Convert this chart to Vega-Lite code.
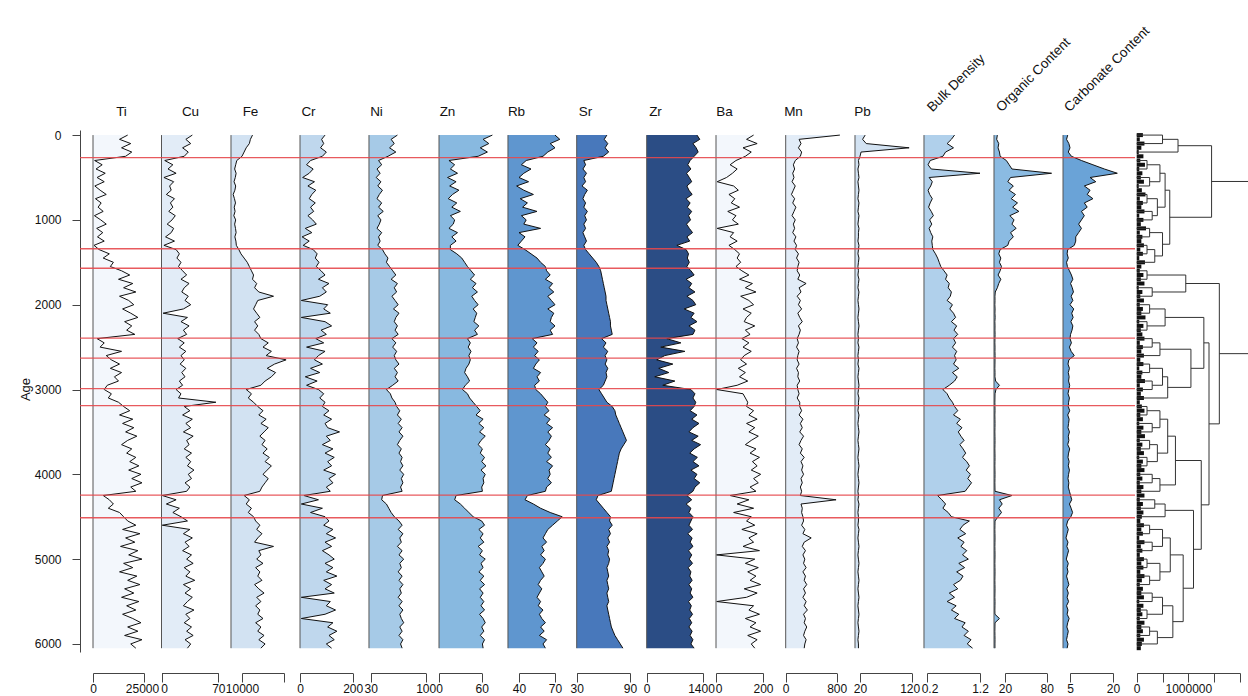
{
"$schema": "https://vega.github.io/schema/vega-lite/v6.json",
"width": 1055, "height": 522,
"autosize": {"type": "none"},
"padding": {"left": 80, "top": 130, "right": 113, "bottom": 44},
"background": "white",
"config": {
 "view": {"stroke": null},
 "axis": {"grid": false, "domainColor": "#444", "tickColor": "#444", "labelColor": "#111", "titleColor": "#111", "labelFont": "Liberation Sans", "titleFont": "Liberation Sans", "labelFontSize": 12, "titleFontSize": 13.5, "titleFontWeight": "normal", "tickSize": 9, "labelPadding": 1, "labelFlush": false, "domainWidth": 1, "tickWidth": 1}
},
"datasets": {
"core": [
{"age":0,"Ti":17000,"Cu":38,"Fe":15000,"Cr":95,"Ni":64,"Zn":75,"Rb":70,"Sr":64,"Zr":1250,"Ba":160,"Mn":850,"Pb":30,"BD":0.72,"OC":9,"CC":4.2,"tw":120000},
{"age":50,"Ti":13000,"Cu":30,"Fe":14000,"Cr":82,"Ni":56,"Zn":62,"Rb":74,"Sr":61,"Zr":1320,"Ba":130,"Mn":210,"Pb":25,"BD":0.66,"OC":8,"CC":3.8,"tw":60000},
{"age":100,"Ti":18500,"Cu":36,"Fe":13500,"Cr":90,"Ni":60,"Zn":70,"Rb":66,"Sr":65,"Zr":1150,"Ba":175,"Mn":240,"Pb":32,"BD":0.58,"OC":11,"CC":4.6,"tw":150000},
{"age":150,"Ti":14000,"Cu":26,"Fe":12000,"Cr":78,"Ni":54,"Zn":58,"Rb":70,"Sr":62,"Zr":1230,"Ba":115,"Mn":200,"Pb":115,"BD":0.70,"OC":10,"CC":5.0,"tw":90000},
{"age":200,"Ti":19000,"Cu":33,"Fe":11000,"Cr":100,"Ni":62,"Zn":68,"Rb":64,"Sr":66,"Zr":1280,"Ba":150,"Mn":250,"Pb":22,"BD":0.55,"OC":12,"CC":4.4,"tw":40000},
{"age":250,"Ti":16000,"Cu":28,"Fe":10000,"Cr":85,"Ni":52,"Zn":55,"Rb":60,"Sr":60,"Zr":1180,"Ba":125,"Mn":230,"Pb":20,"BD":0.50,"OC":13,"CC":5.5,"tw":130000},
{"age":300,"Ti":800,"Cu":4,"Fe":7500,"Cr":40,"Ni":40,"Zn":14,"Rb":46,"Sr":38,"Zr":1080,"Ba":85,"Mn":150,"Pb":17,"BD":0.26,"OC":22,"CC":9,"tw":70000},
{"age":350,"Ti":4500,"Cu":14,"Fe":7000,"Cr":25,"Ni":44,"Zn":22,"Rb":42,"Sr":40,"Zr":1020,"Ba":60,"Mn":120,"Pb":18,"BD":0.22,"OC":26,"CC":13,"tw":160000},
{"age":400,"Ti":1500,"Cu":8,"Fe":6500,"Cr":50,"Ni":38,"Zn":16,"Rb":50,"Sr":37,"Zr":1100,"Ba":90,"Mn":140,"Pb":16,"BD":0.28,"OC":30,"CC":17,"tw":50000},
{"age":450,"Ti":6000,"Cu":18,"Fe":7200,"Cr":35,"Ni":42,"Zn":26,"Rb":44,"Sr":41,"Zr":990,"Ba":70,"Mn":110,"Pb":17,"BD":1.2,"OC":87,"CC":21.5,"tw":110000},
{"age":500,"Ti":2000,"Cu":3,"Fe":6800,"Cr":10,"Ni":37,"Zn":12,"Rb":40,"Sr":38,"Zr":1060,"Ba":45,"Mn":130,"Pb":18,"BD":0.24,"OC":28,"CC":12,"tw":80000},
{"age":550,"Ti":5500,"Cu":15,"Fe":6200,"Cr":55,"Ni":43,"Zn":24,"Rb":48,"Sr":40,"Zr":1120,"Ba":5,"Mn":100,"Pb":16,"BD":0.30,"OC":24,"CC":14,"tw":140000},
{"age":600,"Ti":900,"Cu":10,"Fe":7000,"Cr":30,"Ni":39,"Zn":15,"Rb":38,"Sr":36,"Zr":1000,"Ba":75,"Mn":150,"Pb":17,"BD":0.27,"OC":32,"CC":10,"tw":40000},
{"age":650,"Ti":3500,"Cu":12,"Fe":6600,"Cr":60,"Ni":45,"Zn":28,"Rb":44,"Sr":42,"Zr":1050,"Ba":95,"Mn":120,"Pb":18,"BD":0.22,"OC":26,"CC":12,"tw":100000},
{"age":700,"Ti":6500,"Cu":6,"Fe":5800,"Cr":45,"Ni":41,"Zn":19,"Rb":52,"Sr":39,"Zr":1130,"Ba":55,"Mn":90,"Pb":17,"BD":0.25,"OC":35,"CC":11,"tw":170000},
{"age":750,"Ti":1200,"Cu":16,"Fe":6400,"Cr":35,"Ni":38,"Zn":13,"Rb":41,"Sr":37,"Zr":980,"Ba":80,"Mn":140,"Pb":16,"BD":0.30,"OC":29,"CC":13,"tw":60000},
{"age":800,"Ti":4000,"Cu":11,"Fe":6900,"Cr":58,"Ni":44,"Zn":25,"Rb":47,"Sr":40,"Zr":1080,"Ba":65,"Mn":110,"Pb":18,"BD":0.26,"OC":38,"CC":10,"tw":120000},
{"age":850,"Ti":2500,"Cu":14,"Fe":6300,"Cr":40,"Ni":40,"Zn":18,"Rb":43,"Sr":38,"Zr":1010,"Ba":100,"Mn":160,"Pb":17,"BD":0.23,"OC":31,"CC":11,"tw":90000},
{"age":900,"Ti":5000,"Cu":9,"Fe":6700,"Cr":52,"Ni":46,"Zn":30,"Rb":55,"Sr":42,"Zr":1120,"Ba":50,"Mn":130,"Pb":16,"BD":0.28,"OC":40,"CC":9,"tw":150000},
{"age":950,"Ti":700,"Cu":17,"Fe":6100,"Cr":30,"Ni":39,"Zn":16,"Rb":42,"Sr":39,"Zr":1040,"Ba":85,"Mn":100,"Pb":18,"BD":0.32,"OC":27,"CC":10,"tw":50000},
{"age":1000,"Ti":3800,"Cu":13,"Fe":7000,"Cr":48,"Ni":43,"Zn":22,"Rb":46,"Sr":41,"Zr":1090,"Ba":70,"Mn":150,"Pb":17,"BD":0.25,"OC":33,"CC":9,"tw":130000},
{"age":1050,"Ti":6500,"Cu":7,"Fe":6500,"Cr":62,"Ni":41,"Zn":20,"Rb":44,"Sr":38,"Zr":990,"Ba":95,"Mn":120,"Pb":16,"BD":0.29,"OC":30,"CC":8,"tw":80000},
{"age":1100,"Ti":1800,"Cu":15,"Fe":6900,"Cr":20,"Ni":38,"Zn":14,"Rb":58,"Sr":40,"Zr":1060,"Ba":5,"Mn":140,"Pb":18,"BD":0.24,"OC":36,"CC":9,"tw":180000},
{"age":1150,"Ti":4800,"Cu":12,"Fe":7200,"Cr":45,"Ni":44,"Zn":26,"Rb":40,"Sr":37,"Zr":1140,"Ba":75,"Mn":110,"Pb":17,"BD":0.27,"OC":28,"CC":8,"tw":60000},
{"age":1200,"Ti":2200,"Cu":5,"Fe":6600,"Cr":8,"Ni":40,"Zn":18,"Rb":45,"Sr":39,"Zr":1000,"Ba":60,"Mn":160,"Pb":17,"BD":0.31,"OC":32,"CC":7,"tw":110000},
{"age":1250,"Ti":5500,"Cu":16,"Fe":7100,"Cr":35,"Ni":42,"Zn":24,"Rb":42,"Sr":41,"Zr":1070,"Ba":90,"Mn":130,"Pb":16,"BD":0.29,"OC":26,"CC":7,"tw":90000},
{"age":1300,"Ti":500,"Cu":3,"Fe":7300,"Cr":12,"Ni":39,"Zn":16,"Rb":39,"Sr":38,"Zr":750,"Ba":55,"Mn":170,"Pb":18,"BD":0.30,"OC":24,"CC":6.5,"tw":140000},
{"age":1350,"Ti":3000,"Cu":18,"Fe":8500,"Cr":50,"Ni":45,"Zn":16,"Rb":45,"Sr":40,"Zr":980,"Ba":80,"Mn":150,"Pb":17,"BD":0.31,"OC":13,"CC":4.2,"tw":70000},
{"age":1400,"Ti":8000,"Cu":22,"Fe":9500,"Cr":65,"Ni":48,"Zn":25,"Rb":50,"Sr":44,"Zr":1040,"Ba":100,"Mn":200,"Pb":16,"BD":0.36,"OC":11,"CC":4.0,"tw":120000},
{"age":1450,"Ti":5000,"Cu":19,"Fe":11000,"Cr":58,"Ni":52,"Zn":32,"Rb":55,"Sr":48,"Zr":1010,"Ba":90,"Mn":170,"Pb":18,"BD":0.40,"OC":14,"CC":4.4,"tw":50000},
{"age":1500,"Ti":10000,"Cu":24,"Fe":12500,"Cr":72,"Ni":50,"Zn":36,"Rb":58,"Sr":52,"Zr":1060,"Ba":105,"Mn":210,"Pb":17,"BD":0.43,"OC":12,"CC":3.8,"tw":160000},
{"age":1550,"Ti":8500,"Cu":21,"Fe":13500,"Cr":62,"Ni":54,"Zn":40,"Rb":62,"Sr":55,"Zr":1000,"Ba":85,"Mn":190,"Pb":16,"BD":0.46,"OC":15,"CC":4.1,"tw":90000},
{"age":1600,"Ti":14000,"Cu":26,"Fe":14500,"Cr":80,"Ni":58,"Zn":45,"Rb":63,"Sr":57,"Zr":1100,"Ba":110,"Mn":180,"Pb":17,"BD":0.52,"OC":13,"CC":4.8,"tw":60000},
{"age":1650,"Ti":18000,"Cu":31,"Fe":15500,"Cr":95,"Ni":62,"Zn":50,"Rb":66,"Sr":58,"Zr":1180,"Ba":140,"Mn":220,"Pb":16,"BD":0.58,"OC":10,"CC":5.5,"tw":130000},
{"age":1700,"Ti":12500,"Cu":24,"Fe":15000,"Cr":70,"Ni":56,"Zn":44,"Rb":62,"Sr":59,"Zr":980,"Ba":100,"Mn":190,"Pb":18,"BD":0.55,"OC":14,"CC":6.0,"tw":80000},
{"age":1750,"Ti":19500,"Cu":34,"Fe":17000,"Cr":110,"Ni":64,"Zn":52,"Rb":68,"Sr":60,"Zr":1120,"Ba":155,"Mn":320,"Pb":17,"BD":0.62,"OC":11,"CC":5.2,"tw":150000},
{"age":1800,"Ti":15000,"Cu":28,"Fe":16000,"Cr":85,"Ni":60,"Zn":47,"Rb":65,"Sr":61,"Zr":1050,"Ba":125,"Mn":210,"Pb":16,"BD":0.60,"OC":9,"CC":5.8,"tw":40000},
{"age":1850,"Ti":21000,"Cu":25,"Fe":18000,"Cr":100,"Ni":63,"Zn":54,"Rb":69,"Sr":62,"Zr":1200,"Ba":170,"Mn":240,"Pb":18,"BD":0.66,"OC":6,"CC":6.2,"tw":110000},
{"age":1900,"Ti":13000,"Cu":33,"Fe":25000,"Cr":75,"Ni":57,"Zn":46,"Rb":64,"Sr":63,"Zr":1000,"Ba":105,"Mn":180,"Pb":17,"BD":0.64,"OC":5.5,"CC":5.4,"tw":70000},
{"age":1950,"Ti":17500,"Cu":29,"Fe":17500,"Cr":5,"Ni":61,"Zn":50,"Rb":67,"Sr":63,"Zr":1150,"Ba":140,"Mn":230,"Pb":16,"BD":0.58,"OC":5.6,"CC":6.0,"tw":140000},
{"age":2000,"Ti":20000,"Cu":36,"Fe":16500,"Cr":105,"Ni":65,"Zn":55,"Rb":70,"Sr":64,"Zr":1220,"Ba":160,"Mn":200,"Pb":17,"BD":0.68,"OC":5.4,"CC":5.0,"tw":60000},
{"age":2050,"Ti":14500,"Cu":27,"Fe":15500,"Cr":90,"Ni":59,"Zn":48,"Rb":64,"Sr":65,"Zr":930,"Ba":115,"Mn":250,"Pb":18,"BD":0.63,"OC":5.7,"CC":6.3,"tw":120000},
{"age":2100,"Ti":18500,"Cu":2,"Fe":17000,"Cr":115,"Ni":66,"Zn":53,"Rb":69,"Sr":66,"Zr":1180,"Ba":150,"Mn":190,"Pb":17,"BD":0.70,"OC":5.5,"CC":5.6,"tw":90000},
{"age":2150,"Ti":22000,"Cu":32,"Fe":18500,"Cr":5,"Ni":62,"Zn":51,"Rb":67,"Sr":67,"Zr":1100,"Ba":130,"Mn":220,"Pb":16,"BD":0.74,"OC":5.8,"CC":6.1,"tw":170000},
{"age":2200,"Ti":15500,"Cu":24,"Fe":16000,"Cr":95,"Ni":60,"Zn":49,"Rb":66,"Sr":68,"Zr":1250,"Ba":120,"Mn":260,"Pb":17,"BD":0.66,"OC":5.4,"CC":5.3,"tw":50000},
{"age":2250,"Ti":19000,"Cu":34,"Fe":17500,"Cr":120,"Ni":64,"Zn":56,"Rb":70,"Sr":68,"Zr":1050,"Ba":165,"Mn":200,"Pb":18,"BD":0.76,"OC":5.6,"CC":6.0,"tw":130000},
{"age":2300,"Ti":16500,"Cu":27,"Fe":16000,"Cr":80,"Ni":61,"Zn":50,"Rb":66,"Sr":69,"Zr":1200,"Ba":125,"Mn":230,"Pb":17,"BD":0.71,"OC":5.5,"CC":5.7,"tw":80000},
{"age":2350,"Ti":20500,"Cu":31,"Fe":18000,"Cr":100,"Ni":65,"Zn":54,"Rb":68,"Sr":70,"Zr":1150,"Ba":145,"Mn":210,"Pb":16,"BD":0.78,"OC":5.7,"CC":5.2,"tw":110000},
{"age":2400,"Ti":2000,"Cu":20,"Fe":19000,"Cr":60,"Ni":57,"Zn":40,"Rb":51,"Sr":58,"Zr":500,"Ba":110,"Mn":180,"Pb":17,"BD":0.70,"OC":5.5,"CC":5.0,"tw":150000},
{"age":2450,"Ti":5500,"Cu":28,"Fe":22500,"Cr":90,"Ni":62,"Zn":44,"Rb":55,"Sr":63,"Zr":850,"Ba":140,"Mn":200,"Pb":16,"BD":0.74,"OC":5.4,"CC":5.5,"tw":60000},
{"age":2500,"Ti":3500,"Cu":22,"Fe":20000,"Cr":25,"Ni":58,"Zn":41,"Rb":52,"Sr":60,"Zr":350,"Ba":115,"Mn":170,"Pb":18,"BD":0.68,"OC":5.6,"CC":4.8,"tw":120000},
{"age":2550,"Ti":14000,"Cu":30,"Fe":24000,"Cr":95,"Ni":63,"Zn":45,"Rb":56,"Sr":65,"Zr":950,"Ba":150,"Mn":210,"Pb":17,"BD":0.76,"OC":5.5,"CC":5.4,"tw":90000},
{"age":2600,"Ti":6500,"Cu":24,"Fe":21500,"Cr":70,"Ni":60,"Zn":42,"Rb":53,"Sr":62,"Zr":450,"Ba":120,"Mn":190,"Pb":16,"BD":0.72,"OC":5.7,"CC":6.5,"tw":140000},
{"age":2650,"Ti":9000,"Cu":28,"Fe":31000,"Cr":55,"Ni":62,"Zn":44,"Rb":57,"Sr":64,"Zr":250,"Ba":105,"Mn":180,"Pb":17,"BD":0.75,"OC":5.6,"CC":4.6,"tw":70000},
{"age":2700,"Ti":13000,"Cu":23,"Fe":25500,"Cr":85,"Ni":66,"Zn":42,"Rb":54,"Sr":62,"Zr":650,"Ba":130,"Mn":210,"Pb":16,"BD":0.70,"OC":5.5,"CC":4.3,"tw":130000},
{"age":2750,"Ti":8500,"Cu":30,"Fe":22000,"Cr":40,"Ni":60,"Zn":38,"Rb":52,"Sr":65,"Zr":300,"Ba":95,"Mn":170,"Pb":18,"BD":0.80,"OC":5.4,"CC":4.8,"tw":50000},
{"age":2800,"Ti":14000,"Cu":25,"Fe":26000,"Cr":75,"Ni":64,"Zn":36,"Rb":58,"Sr":63,"Zr":550,"Ba":125,"Mn":200,"Pb":17,"BD":0.68,"OC":5.6,"CC":4.4,"tw":110000},
{"age":2850,"Ti":10500,"Cu":29,"Fe":24000,"Cr":20,"Ni":61,"Zn":40,"Rb":55,"Sr":64,"Zr":200,"Ba":100,"Mn":190,"Pb":16,"BD":0.77,"OC":5.5,"CC":4.7,"tw":90000},
{"age":2900,"Ti":12500,"Cu":22,"Fe":21000,"Cr":65,"Ni":65,"Zn":43,"Rb":57,"Sr":62,"Zr":700,"Ba":135,"Mn":220,"Pb":17,"BD":0.72,"OC":6.5,"CC":4.5,"tw":160000},
{"age":2950,"Ti":7000,"Cu":26,"Fe":19000,"Cr":25,"Ni":58,"Zn":37,"Rb":53,"Sr":60,"Zr":400,"Ba":90,"Mn":180,"Pb":18,"BD":0.62,"OC":12,"CC":4.9,"tw":60000},
{"age":3000,"Ti":5500,"Cu":18,"Fe":12000,"Cr":70,"Ni":50,"Zn":33,"Rb":54,"Sr":55,"Zr":1100,"Ba":3,"Mn":190,"Pb":17,"BD":0.50,"OC":7,"CC":4.6,"tw":120000},
{"age":3050,"Ti":9000,"Cu":24,"Fe":14500,"Cr":90,"Ni":55,"Zn":40,"Rb":58,"Sr":58,"Zr":1200,"Ba":115,"Mn":210,"Pb":16,"BD":0.58,"OC":5.6,"CC":4.3,"tw":80000},
{"age":3100,"Ti":7500,"Cu":21,"Fe":13000,"Cr":75,"Ni":57,"Zn":43,"Rb":61,"Sr":61,"Zr":1150,"Ba":125,"Mn":180,"Pb":18,"BD":0.62,"OC":5.5,"CC":4.8,"tw":140000},
{"age":3150,"Ti":12500,"Cu":67,"Fe":15500,"Cr":95,"Ni":61,"Zn":48,"Rb":64,"Sr":64,"Zr":1220,"Ba":135,"Mn":220,"Pb":17,"BD":0.68,"OC":5.4,"CC":4.5,"tw":60000},
{"age":3200,"Ti":15000,"Cu":28,"Fe":17500,"Cr":85,"Ni":63,"Zn":53,"Rb":62,"Sr":70,"Zr":1180,"Ba":130,"Mn":220,"Pb":17,"BD":0.72,"OC":5.5,"CC":4.4,"tw":100000},
{"age":3250,"Ti":18000,"Cu":35,"Fe":20000,"Cr":110,"Ni":67,"Zn":58,"Rb":65,"Sr":73,"Zr":1080,"Ba":160,"Mn":250,"Pb":16,"BD":0.78,"OC":5.6,"CC":4.9,"tw":150000},
{"age":3300,"Ti":13000,"Cu":26,"Fe":18000,"Cr":90,"Ni":64,"Zn":52,"Rb":61,"Sr":74,"Zr":1250,"Ba":140,"Mn":210,"Pb":18,"BD":0.70,"OC":5.4,"CC":4.2,"tw":70000},
{"age":3350,"Ti":19500,"Cu":38,"Fe":21500,"Cr":120,"Ni":69,"Zn":62,"Rb":66,"Sr":76,"Zr":1120,"Ba":175,"Mn":270,"Pb":17,"BD":0.83,"OC":5.5,"CC":4.7,"tw":120000},
{"age":3400,"Ti":14500,"Cu":30,"Fe":19000,"Cr":95,"Ni":65,"Zn":56,"Rb":63,"Sr":78,"Zr":1300,"Ba":130,"Mn":230,"Pb":16,"BD":0.76,"OC":5.6,"CC":4.5,"tw":50000},
{"age":3450,"Ti":20000,"Cu":36,"Fe":22500,"Cr":105,"Ni":70,"Zn":63,"Rb":68,"Sr":80,"Zr":1150,"Ba":165,"Mn":260,"Pb":17,"BD":0.86,"OC":5.5,"CC":4.3,"tw":130000},
{"age":3500,"Ti":16000,"Cu":27,"Fe":20500,"Cr":150,"Ni":66,"Zn":57,"Rb":64,"Sr":82,"Zr":1050,"Ba":140,"Mn":220,"Pb":18,"BD":0.79,"OC":5.4,"CC":4.8,"tw":90000},
{"age":3550,"Ti":21500,"Cu":39,"Fe":18500,"Cr":100,"Ni":71,"Zn":65,"Rb":67,"Sr":84,"Zr":1280,"Ba":180,"Mn":280,"Pb":17,"BD":0.84,"OC":5.5,"CC":4.4,"tw":160000},
{"age":3600,"Ti":17000,"Cu":31,"Fe":21000,"Cr":115,"Ni":67,"Zn":59,"Rb":65,"Sr":86,"Zr":1120,"Ba":150,"Mn":240,"Pb":16,"BD":0.90,"OC":5.6,"CC":4.6,"tw":60000},
{"age":3650,"Ti":14000,"Cu":34,"Fe":19500,"Cr":85,"Ni":64,"Zn":55,"Rb":62,"Sr":83,"Zr":1340,"Ba":125,"Mn":210,"Pb":17,"BD":0.82,"OC":5.5,"CC":4.2,"tw":110000},
{"age":3700,"Ti":19000,"Cu":28,"Fe":22000,"Cr":125,"Ni":69,"Zn":61,"Rb":66,"Sr":80,"Zr":1180,"Ba":170,"Mn":260,"Pb":18,"BD":0.88,"OC":5.4,"CC":4.9,"tw":80000},
{"age":3750,"Ti":16500,"Cu":37,"Fe":20000,"Cr":95,"Ni":66,"Zn":58,"Rb":64,"Sr":78,"Zr":1070,"Ba":145,"Mn":230,"Pb":17,"BD":0.93,"OC":5.5,"CC":4.5,"tw":140000},
{"age":3800,"Ti":21000,"Cu":30,"Fe":23000,"Cr":130,"Ni":70,"Zn":64,"Rb":67,"Sr":77,"Zr":1260,"Ba":185,"Mn":290,"Pb":16,"BD":0.87,"OC":5.6,"CC":4.3,"tw":50000},
{"age":3850,"Ti":18000,"Cu":36,"Fe":21000,"Cr":105,"Ni":68,"Zn":60,"Rb":63,"Sr":76,"Zr":1150,"Ba":155,"Mn":240,"Pb":17,"BD":0.95,"OC":5.5,"CC":4.7,"tw":120000},
{"age":3900,"Ti":22500,"Cu":32,"Fe":24000,"Cr":120,"Ni":71,"Zn":66,"Rb":68,"Sr":75,"Zr":1300,"Ba":175,"Mn":270,"Pb":18,"BD":1.00,"OC":5.4,"CC":4.4,"tw":90000},
{"age":3950,"Ti":17500,"Cu":40,"Fe":22000,"Cr":90,"Ni":67,"Zn":59,"Rb":65,"Sr":74,"Zr":1100,"Ba":150,"Mn":250,"Pb":17,"BD":0.94,"OC":5.5,"CC":4.8,"tw":150000},
{"age":4000,"Ti":23500,"Cu":33,"Fe":20000,"Cr":135,"Ni":72,"Zn":65,"Rb":66,"Sr":73,"Zr":1250,"Ba":190,"Mn":280,"Pb":16,"BD":1.02,"OC":5.6,"CC":4.5,"tw":70000},
{"age":4050,"Ti":19000,"Cu":37,"Fe":22500,"Cr":110,"Ni":69,"Zn":62,"Rb":64,"Sr":72,"Zr":1180,"Ba":160,"Mn":240,"Pb":17,"BD":0.97,"OC":5.5,"CC":4.3,"tw":110000},
{"age":4100,"Ti":24000,"Cu":29,"Fe":21000,"Cr":125,"Ni":71,"Zn":63,"Rb":67,"Sr":71,"Zr":1320,"Ba":180,"Mn":260,"Pb":18,"BD":1.04,"OC":5.4,"CC":4.6,"tw":60000},
{"age":4150,"Ti":18500,"Cu":35,"Fe":19500,"Cr":100,"Ni":68,"Zn":60,"Rb":63,"Sr":70,"Zr":1200,"Ba":145,"Mn":230,"Pb":17,"BD":0.98,"OC":5.5,"CC":4.4,"tw":130000},
{"age":4200,"Ti":21000,"Cu":31,"Fe":18500,"Cr":115,"Ni":70,"Zn":61,"Rb":62,"Sr":69,"Zr":1150,"Ba":170,"Mn":250,"Pb":16,"BD":0.92,"OC":5.6,"CC":4.8,"tw":90000},
{"age":4250,"Ti":5000,"Cu":1,"Fe":11000,"Cr":15,"Ni":45,"Zn":24,"Rb":47,"Sr":54,"Zr":1000,"Ba":60,"Mn":230,"Pb":17,"BD":0.40,"OC":30,"CC":5.2,"tw":150000},
{"age":4300,"Ti":8000,"Cu":18,"Fe":13500,"Cr":70,"Ni":44,"Zn":22,"Rb":45,"Sr":52,"Zr":1120,"Ba":140,"Mn":790,"Pb":16,"BD":0.48,"OC":12,"CC":5.6,"tw":60000},
{"age":4350,"Ti":10000,"Cu":6,"Fe":12000,"Cr":5,"Ni":50,"Zn":30,"Rb":52,"Sr":56,"Zr":980,"Ba":90,"Mn":240,"Pb":18,"BD":0.55,"OC":16,"CC":4.8,"tw":120000},
{"age":4400,"Ti":7500,"Cu":22,"Fe":14500,"Cr":85,"Ni":53,"Zn":36,"Rb":58,"Sr":60,"Zr":1100,"Ba":160,"Mn":260,"Pb":17,"BD":0.50,"OC":11,"CC":5.4,"tw":80000},
{"age":4450,"Ti":13000,"Cu":14,"Fe":13000,"Cr":40,"Ni":56,"Zn":42,"Rb":66,"Sr":64,"Zr":1050,"Ba":75,"Mn":250,"Pb":16,"BD":0.60,"OC":15,"CC":5.9,"tw":130000},
{"age":4500,"Ti":15000,"Cu":24,"Fe":15500,"Cr":95,"Ni":60,"Zn":48,"Rb":76,"Sr":68,"Zr":1150,"Ba":150,"Mn":270,"Pb":17,"BD":0.66,"OC":10,"CC":5.3,"tw":100000},
{"age":4550,"Ti":17000,"Cu":32,"Fe":16500,"Cr":110,"Ni":66,"Zn":60,"Rb":72,"Sr":67,"Zr":1100,"Ba":130,"Mn":280,"Pb":17,"BD":1.00,"OC":5.6,"CC":4.2,"tw":70000},
{"age":4600,"Ti":21000,"Cu":1,"Fe":18500,"Cr":90,"Ni":70,"Zn":64,"Rb":68,"Sr":70,"Zr":1050,"Ba":165,"Mn":250,"Pb":16,"BD":0.88,"OC":5.5,"CC":3.8,"tw":140000},
{"age":4650,"Ti":14500,"Cu":35,"Fe":17000,"Cr":125,"Ni":65,"Zn":56,"Rb":64,"Sr":66,"Zr":1140,"Ba":110,"Mn":300,"Pb":18,"BD":0.82,"OC":5.4,"CC":4.4,"tw":90000},
{"age":4700,"Ti":23000,"Cu":27,"Fe":19500,"Cr":100,"Ni":71,"Zn":62,"Rb":62,"Sr":68,"Zr":1020,"Ba":175,"Mn":270,"Pb":17,"BD":0.93,"OC":5.5,"CC":4.0,"tw":120000},
{"age":4750,"Ti":16000,"Cu":38,"Fe":17500,"Cr":135,"Ni":67,"Zn":58,"Rb":60,"Sr":65,"Zr":1130,"Ba":140,"Mn":400,"Pb":16,"BD":0.78,"OC":5.6,"CC":3.6,"tw":50000},
{"age":4800,"Ti":20500,"Cu":29,"Fe":16000,"Cr":95,"Ni":69,"Zn":63,"Rb":63,"Sr":67,"Zr":1080,"Ba":160,"Mn":290,"Pb":17,"BD":0.90,"OC":5.5,"CC":4.3,"tw":150000},
{"age":4850,"Ti":13500,"Cu":34,"Fe":25000,"Cr":120,"Ni":64,"Zn":55,"Rb":59,"Sr":64,"Zr":1150,"Ba":115,"Mn":260,"Pb":18,"BD":0.84,"OC":5.4,"CC":3.9,"tw":80000},
{"age":4900,"Ti":22000,"Cu":26,"Fe":18000,"Cr":85,"Ni":70,"Zn":61,"Rb":61,"Sr":66,"Zr":1040,"Ba":185,"Mn":310,"Pb":17,"BD":0.95,"OC":5.5,"CC":4.5,"tw":110000},
{"age":4950,"Ti":17500,"Cu":37,"Fe":19000,"Cr":110,"Ni":66,"Zn":57,"Rb":58,"Sr":65,"Zr":1120,"Ba":2,"Mn":270,"Pb":16,"BD":0.87,"OC":5.6,"CC":4.1,"tw":60000},
{"age":5000,"Ti":24000,"Cu":31,"Fe":17000,"Cr":130,"Ni":72,"Zn":65,"Rb":62,"Sr":67,"Zr":1060,"Ba":165,"Mn":300,"Pb":17,"BD":0.98,"OC":5.5,"CC":3.7,"tw":140000},
{"age":5050,"Ti":15000,"Cu":39,"Fe":20000,"Cr":95,"Ni":67,"Zn":59,"Rb":60,"Sr":66,"Zr":1140,"Ba":125,"Mn":280,"Pb":18,"BD":0.80,"OC":5.4,"CC":4.4,"tw":90000},
{"age":5100,"Ti":19500,"Cu":28,"Fe":16500,"Cr":125,"Ni":69,"Zn":62,"Rb":57,"Sr":64,"Zr":1030,"Ba":180,"Mn":320,"Pb":17,"BD":0.91,"OC":5.5,"CC":4.0,"tw":130000},
{"age":5150,"Ti":13000,"Cu":35,"Fe":18500,"Cr":100,"Ni":65,"Zn":56,"Rb":59,"Sr":65,"Zr":1100,"Ba":135,"Mn":270,"Pb":16,"BD":0.76,"OC":5.6,"CC":4.3,"tw":70000},
{"age":5200,"Ti":21500,"Cu":30,"Fe":17500,"Cr":140,"Ni":70,"Zn":63,"Rb":61,"Sr":66,"Zr":1070,"Ba":170,"Mn":310,"Pb":17,"BD":0.88,"OC":5.5,"CC":3.8,"tw":150000},
{"age":5250,"Ti":17000,"Cu":41,"Fe":19500,"Cr":90,"Ni":66,"Zn":58,"Rb":58,"Sr":64,"Zr":1130,"Ba":145,"Mn":290,"Pb":18,"BD":0.83,"OC":5.4,"CC":4.2,"tw":100000},
{"age":5300,"Ti":23000,"Cu":27,"Fe":16000,"Cr":120,"Ni":71,"Zn":64,"Rb":56,"Sr":65,"Zr":1050,"Ba":190,"Mn":330,"Pb":17,"BD":0.70,"OC":5.5,"CC":4.6,"tw":60000},
{"age":5350,"Ti":15500,"Cu":36,"Fe":18000,"Cr":95,"Ni":67,"Zn":57,"Rb":59,"Sr":66,"Zr":1120,"Ba":120,"Mn":280,"Pb":16,"BD":0.78,"OC":5.6,"CC":3.9,"tw":120000},
{"age":5400,"Ti":20000,"Cu":29,"Fe":20500,"Cr":130,"Ni":69,"Zn":62,"Rb":57,"Sr":64,"Zr":1080,"Ba":175,"Mn":310,"Pb":17,"BD":0.62,"OC":5.5,"CC":4.4,"tw":90000},
{"age":5450,"Ti":14000,"Cu":38,"Fe":17000,"Cr":5,"Ni":65,"Zn":58,"Rb":55,"Sr":65,"Zr":1150,"Ba":130,"Mn":270,"Pb":18,"BD":0.72,"OC":5.4,"CC":4.0,"tw":140000},
{"age":5500,"Ti":22500,"Cu":32,"Fe":19000,"Cr":115,"Ni":70,"Zn":63,"Rb":58,"Sr":66,"Zr":1040,"Ba":3,"Mn":320,"Pb":17,"BD":0.58,"OC":5.6,"CC":4.5,"tw":50000},
{"age":5550,"Ti":16500,"Cu":27,"Fe":16500,"Cr":100,"Ni":66,"Zn":59,"Rb":56,"Sr":64,"Zr":1110,"Ba":160,"Mn":290,"Pb":16,"BD":0.75,"OC":5.5,"CC":3.8,"tw":130000},
{"age":5600,"Ti":21000,"Cu":40,"Fe":18500,"Cr":135,"Ni":71,"Zn":64,"Rb":60,"Sr":65,"Zr":1070,"Ba":140,"Mn":340,"Pb":17,"BD":0.66,"OC":5.4,"CC":4.3,"tw":80000},
{"age":5650,"Ti":14500,"Cu":30,"Fe":17500,"Cr":95,"Ni":67,"Zn":57,"Rb":57,"Sr":66,"Zr":1140,"Ba":185,"Mn":280,"Pb":18,"BD":0.80,"OC":5.5,"CC":4.0,"tw":110000},
{"age":5700,"Ti":19500,"Cu":35,"Fe":20000,"Cr":5,"Ni":69,"Zn":62,"Rb":59,"Sr":67,"Zr":1060,"Ba":125,"Mn":310,"Pb":17,"BD":0.72,"OC":12,"CC":4.7,"tw":60000},
{"age":5750,"Ti":23500,"Cu":28,"Fe":16500,"Cr":125,"Ni":72,"Zn":65,"Rb":62,"Sr":68,"Zr":1120,"Ba":170,"Mn":290,"Pb":16,"BD":0.92,"OC":5.6,"CC":4.2,"tw":150000},
{"age":5800,"Ti":17000,"Cu":37,"Fe":19000,"Cr":105,"Ni":67,"Zn":60,"Rb":58,"Sr":69,"Zr":1050,"Ba":145,"Mn":330,"Pb":17,"BD":0.86,"OC":5.5,"CC":3.9,"tw":90000},
{"age":5850,"Ti":22000,"Cu":31,"Fe":17500,"Cr":140,"Ni":70,"Zn":63,"Rb":61,"Sr":71,"Zr":1130,"Ba":190,"Mn":300,"Pb":18,"BD":0.98,"OC":5.4,"CC":4.4,"tw":120000},
{"age":5900,"Ti":15500,"Cu":39,"Fe":20500,"Cr":110,"Ni":66,"Zn":58,"Rb":57,"Sr":73,"Zr":1080,"Ba":135,"Mn":280,"Pb":17,"BD":0.90,"OC":5.5,"CC":4.1,"tw":70000},
{"age":5950,"Ti":24000,"Cu":29,"Fe":18000,"Cr":130,"Ni":71,"Zn":64,"Rb":63,"Sr":76,"Zr":1150,"Ba":175,"Mn":320,"Pb":16,"BD":1.03,"OC":5.6,"CC":3.8,"tw":140000},
{"age":6000,"Ti":18500,"Cu":36,"Fe":21000,"Cr":100,"Ni":68,"Zn":61,"Rb":60,"Sr":79,"Zr":1100,"Ba":150,"Mn":300,"Pb":17,"BD":0.96,"OC":5.5,"CC":4.3,"tw":100000},
{"age":6050,"Ti":21000,"Cu":32,"Fe":19000,"Cr":120,"Ni":70,"Zn":62,"Rb":62,"Sr":82,"Zr":1180,"Ba":165,"Mn":290,"Pb":17,"BD":1.06,"OC":5.5,"CC":4.0,"tw":80000}
],
"zones": [{"age":265},{"age":1340},{"age":1570},{"age":2395},{"age":2630},{"age":2990},{"age":3190},{"age":4245},{"age":4512}],
"dendro": [
{"age":0,"age2":100,"h":500000,"hl":0,"hr":0},
{"age":50,"age2":200,"h":800000,"hl":500000,"hr":0},
{"age":300,"age2":400,"h":200000,"hl":0,"hr":0},
{"age":500,"age2":600,"h":250000,"hl":0,"hr":0},
{"age":350,"age2":550,"h":450000,"hl":200000,"hr":250000},
{"age":700,"age2":800,"h":200000,"hl":0,"hr":0},
{"age":900,"age2":1000,"h":300000,"hl":0,"hr":0},
{"age":750,"age2":950,"h":400000,"hl":200000,"hr":300000},
{"age":450,"age2":850,"h":550000,"hl":450000,"hr":400000},
{"age":1100,"age2":1200,"h":250000,"hl":0,"hr":0},
{"age":1300,"age2":1400,"h":200000,"hl":0,"hr":0},
{"age":1350,"age2":1500,"h":350000,"hl":200000,"hr":0},
{"age":1150,"age2":1425,"h":500000,"hl":250000,"hr":350000},
{"age":650,"age2":1287,"h":640000,"hl":550000,"hr":500000},
{"age":125,"age2":969,"h":1450000,"hl":800000,"hr":640000},
{"age":1600,"age2":1700,"h":200000,"hl":0,"hr":0},
{"age":1800,"age2":1900,"h":300000,"hl":0,"hr":0},
{"age":1650,"age2":1850,"h":950000,"hl":200000,"hr":300000},
{"age":2000,"age2":2100,"h":250000,"hl":0,"hr":0},
{"age":2200,"age2":2300,"h":200000,"hl":0,"hr":0},
{"age":2050,"age2":2250,"h":550000,"hl":250000,"hr":200000},
{"age":2400,"age2":2500,"h":300000,"hl":0,"hr":0},
{"age":2450,"age2":2600,"h":450000,"hl":300000,"hr":0},
{"age":2700,"age2":2800,"h":250000,"hl":0,"hr":0},
{"age":2900,"age2":3000,"h":300000,"hl":0,"hr":0},
{"age":2750,"age2":2950,"h":500000,"hl":250000,"hr":300000},
{"age":2850,"age2":3100,"h":600000,"hl":500000,"hr":0},
{"age":2525,"age2":2975,"h":1050000,"hl":450000,"hr":600000},
{"age":2150,"age2":2750,"h":1300000,"hl":550000,"hr":1050000},
{"age":3200,"age2":3300,"h":200000,"hl":0,"hr":0},
{"age":3400,"age2":3500,"h":300000,"hl":0,"hr":0},
{"age":3250,"age2":3450,"h":450000,"hl":200000,"hr":300000},
{"age":3600,"age2":3700,"h":250000,"hl":0,"hr":0},
{"age":3800,"age2":3900,"h":200000,"hl":0,"hr":0},
{"age":3650,"age2":3850,"h":400000,"hl":250000,"hr":200000},
{"age":3350,"age2":3750,"h":600000,"hl":450000,"hr":400000},
{"age":4000,"age2":4100,"h":300000,"hl":0,"hr":0},
{"age":4050,"age2":4200,"h":450000,"hl":300000,"hr":0},
{"age":3550,"age2":4125,"h":750000,"hl":600000,"hr":450000},
{"age":4300,"age2":4400,"h":350000,"hl":0,"hr":0},
{"age":4350,"age2":4500,"h":550000,"hl":350000,"hr":0},
{"age":4600,"age2":4700,"h":250000,"hl":0,"hr":0},
{"age":4800,"age2":4900,"h":300000,"hl":0,"hr":0},
{"age":4650,"age2":4850,"h":500000,"hl":250000,"hr":300000},
{"age":5000,"age2":5100,"h":200000,"hl":0,"hr":0},
{"age":5200,"age2":5300,"h":250000,"hl":0,"hr":0},
{"age":5050,"age2":5250,"h":450000,"hl":200000,"hr":250000},
{"age":4750,"age2":5150,"h":650000,"hl":500000,"hr":450000},
{"age":5400,"age2":5500,"h":300000,"hl":0,"hr":0},
{"age":5600,"age2":5700,"h":200000,"hl":0,"hr":0},
{"age":5450,"age2":5650,"h":500000,"hl":300000,"hr":200000},
{"age":5800,"age2":5900,"h":250000,"hl":0,"hr":0},
{"age":5850,"age2":6000,"h":400000,"hl":250000,"hr":0},
{"age":5550,"age2":5925,"h":700000,"hl":500000,"hr":400000},
{"age":4950,"age2":5737,"h":900000,"hl":650000,"hr":700000},
{"age":4425,"age2":5343,"h":1100000,"hl":550000,"hr":900000},
{"age":3837,"age2":4884,"h":1250000,"hl":750000,"hr":1100000},
{"age":2450,"age2":4360,"h":1400000,"hl":1300000,"hr":1250000},
{"age":1750,"age2":3405,"h":1600000,"hl":950000,"hr":1400000},
{"age":547,"age2":2577,"h":2300000,"hl":1450000,"hr":1600000}
]
},
"data": {"name": "core"},
"encoding": {
 "y": {"field": "age", "type": "quantitative", "title": "Age",
  "scale": {"domain": [-60, 6095], "reverse": true, "nice": false, "zero": false},
  "axis": {"values": [0,1000,2000,3000,4000,5000,6000], "format": "d", "title": "Age", "tickSize": 8, "labelPadding": 11, "titleX": -55, "titleY": 259, "titleBaseline": "middle", "titleAlign": "center", "titleFontSize": 13}}
},
"layer": [
{"layer": [
 {"mark": {"type": "area", "orient": "horizontal", "color": "#f3f7fc"}, "encoding": {"x": {"field": "Ti", "type": "quantitative", "scale": {"domain": [0, 25000], "range": [13, 64], "nice": false, "zero": false}, "axis": {"orient": "bottom", "values": [0, 25000], "format": "d", "offset": 21, "labelOffset": {"condition": {"test": "datum.value == 25000", "value": -2}, "value": 0}, "title": "Ti", "titleX": 41, "titleY": -558, "titleAlign": "center", "titleBaseline": "alphabetic"}}, "x2": {"datum": 0}}},
 {"mark": {"type": "line", "color": "#111", "strokeWidth": 1}, "encoding": {"x": {"field": "Ti", "type": "quantitative"}, "order": {"field": "age", "type": "quantitative"}}},
 {"mark": {"type": "rule", "color": "#555"}, "encoding": {"x": {"datum": 0, "type": "quantitative"}, "y": {"aggregate": "min", "field": "age", "type": "quantitative"}, "y2": {"aggregate": "max", "field": "age"}}}
]},
{"layer": [
 {"mark": {"type": "area", "orient": "horizontal", "color": "#e2ecf7"}, "encoding": {"x": {"field": "Cu", "type": "quantitative", "scale": {"domain": [0, 70], "range": [81.5, 138.3], "nice": false, "zero": false}, "axis": {"orient": "bottom", "values": [0, 70], "format": "d", "offset": 21, "labelOffset": {"condition": {"test": "datum.value == 0", "value": 2.5}, "value": 0}, "title": "Cu", "titleX": 110, "titleY": -558, "titleAlign": "center", "titleBaseline": "alphabetic"}}, "x2": {"datum": 0}}},
 {"mark": {"type": "line", "color": "#111", "strokeWidth": 1}, "encoding": {"x": {"field": "Cu", "type": "quantitative"}, "order": {"field": "age", "type": "quantitative"}}},
 {"mark": {"type": "rule", "color": "#555"}, "encoding": {"x": {"datum": 0, "type": "quantitative"}, "y": {"aggregate": "min", "field": "age", "type": "quantitative"}, "y2": {"aggregate": "max", "field": "age"}}}
]},
{"layer": [
 {"mark": {"type": "area", "orient": "horizontal", "color": "#d2e2f2"}, "encoding": {"x": {"field": "Fe", "type": "quantitative", "scale": {"domain": [10000, 30000], "range": [162, 204], "nice": false, "zero": false}, "axis": {"orient": "bottom", "values": [10000, 30000], "format": "d", "labelExpr": "datum.value == 10000 ? datum.label : ''", "offset": 21, "title": "Fe", "titleX": 170, "titleY": -558, "titleAlign": "center", "titleBaseline": "alphabetic"}}, "x2": {"datum": 4760}}},
 {"mark": {"type": "line", "color": "#111", "strokeWidth": 1}, "encoding": {"x": {"field": "Fe", "type": "quantitative"}, "order": {"field": "age", "type": "quantitative"}}},
 {"mark": {"type": "rule", "color": "#555"}, "encoding": {"x": {"datum": 4760, "type": "quantitative"}, "y": {"aggregate": "min", "field": "age", "type": "quantitative"}, "y2": {"aggregate": "max", "field": "age"}}}
]},
{"layer": [
 {"mark": {"type": "area", "orient": "horizontal", "color": "#bfd7ed"}, "encoding": {"x": {"field": "Cr", "type": "quantitative", "scale": {"domain": [0, 200], "range": [220, 272.7], "nice": false, "zero": false}, "axis": {"orient": "bottom", "values": [0, 200], "format": "d", "offset": 21, "title": "Cr", "titleX": 228, "titleY": -558, "titleAlign": "center", "titleBaseline": "alphabetic"}}, "x2": {"datum": 0}}},
 {"mark": {"type": "line", "color": "#111", "strokeWidth": 1}, "encoding": {"x": {"field": "Cr", "type": "quantitative"}, "order": {"field": "age", "type": "quantitative"}}},
 {"mark": {"type": "rule", "color": "#555"}, "encoding": {"x": {"datum": 0, "type": "quantitative"}, "y": {"aggregate": "min", "field": "age", "type": "quantitative"}, "y2": {"aggregate": "max", "field": "age"}}}
]},
{"layer": [
 {"mark": {"type": "area", "orient": "horizontal", "color": "#a6cae7"}, "encoding": {"x": {"field": "Ni", "type": "quantitative", "scale": {"domain": [30, 100], "range": [290.7, 345.7], "nice": false, "zero": false}, "axis": {"orient": "bottom", "values": [30, 100], "format": "d", "offset": 21, "title": "Ni", "titleX": 296, "titleY": -558, "titleAlign": "center", "titleBaseline": "alphabetic"}}, "x2": {"datum": 27.8}}},
 {"mark": {"type": "line", "color": "#111", "strokeWidth": 1}, "encoding": {"x": {"field": "Ni", "type": "quantitative"}, "order": {"field": "age", "type": "quantitative"}}},
 {"mark": {"type": "rule", "color": "#555"}, "encoding": {"x": {"datum": 27.8, "type": "quantitative"}, "y": {"aggregate": "min", "field": "age", "type": "quantitative"}, "y2": {"aggregate": "max", "field": "age"}}}
]},
{"layer": [
 {"mark": {"type": "area", "orient": "horizontal", "color": "#88b9e0"}, "encoding": {"x": {"field": "Zn", "type": "quantitative", "scale": {"domain": [0, 60], "range": [359, 401.7], "nice": false, "zero": false}, "axis": {"orient": "bottom", "values": [0, 60], "format": "d", "offset": 21, "title": "Zn", "titleX": 367, "titleY": -558, "titleAlign": "center", "titleBaseline": "alphabetic"}}, "x2": {"datum": 0}}},
 {"mark": {"type": "line", "color": "#111", "strokeWidth": 1}, "encoding": {"x": {"field": "Zn", "type": "quantitative"}, "order": {"field": "age", "type": "quantitative"}}},
 {"mark": {"type": "rule", "color": "#555"}, "encoding": {"x": {"datum": 0, "type": "quantitative"}, "y": {"aggregate": "min", "field": "age", "type": "quantitative"}, "y2": {"aggregate": "max", "field": "age"}}}
]},
{"layer": [
 {"mark": {"type": "area", "orient": "horizontal", "color": "#5f96cf"}, "encoding": {"x": {"field": "Rb", "type": "quantitative", "scale": {"domain": [40, 70], "range": [439, 475], "nice": false, "zero": false}, "axis": {"orient": "bottom", "values": [40, 70], "format": "d", "offset": 21, "title": "Rb", "titleX": 436, "titleY": -558, "titleAlign": "center", "titleBaseline": "alphabetic"}}, "x2": {"datum": 30.8}}},
 {"mark": {"type": "line", "color": "#111", "strokeWidth": 1}, "encoding": {"x": {"field": "Rb", "type": "quantitative"}, "order": {"field": "age", "type": "quantitative"}}},
 {"mark": {"type": "rule", "color": "#555"}, "encoding": {"x": {"datum": 30.8, "type": "quantitative"}, "y": {"aggregate": "min", "field": "age", "type": "quantitative"}, "y2": {"aggregate": "max", "field": "age"}}}
]},
{"layer": [
 {"mark": {"type": "area", "orient": "horizontal", "color": "#4878bb"}, "encoding": {"x": {"field": "Sr", "type": "quantitative", "scale": {"domain": [30, 90], "range": [496.7, 550], "nice": false, "zero": false}, "axis": {"orient": "bottom", "values": [30, 90], "format": "d", "offset": 21, "title": "Sr", "titleX": 505, "titleY": -558, "titleAlign": "center", "titleBaseline": "alphabetic"}}, "x2": {"datum": 30}}},
 {"mark": {"type": "line", "color": "#111", "strokeWidth": 1}, "encoding": {"x": {"field": "Sr", "type": "quantitative"}, "order": {"field": "age", "type": "quantitative"}}},
 {"mark": {"type": "rule", "color": "#555"}, "encoding": {"x": {"datum": 30, "type": "quantitative"}, "y": {"aggregate": "min", "field": "age", "type": "quantitative"}, "y2": {"aggregate": "max", "field": "age"}}}
]},
{"layer": [
 {"mark": {"type": "area", "orient": "horizontal", "color": "#2b4d85"}, "encoding": {"x": {"field": "Zr", "type": "quantitative", "scale": {"domain": [0, 1400], "range": [566.7, 623], "nice": false, "zero": false}, "axis": {"orient": "bottom", "values": [0, 1400], "format": "d", "offset": 21, "labelOffset": {"condition": {"test": "datum.value == 1400", "value": -2}, "value": 0}, "title": "Zr", "titleX": 575, "titleY": -558, "titleAlign": "center", "titleBaseline": "alphabetic"}}, "x2": {"datum": 0}}},
 {"mark": {"type": "line", "color": "#111", "strokeWidth": 1}, "encoding": {"x": {"field": "Zr", "type": "quantitative"}, "order": {"field": "age", "type": "quantitative"}}},
 {"mark": {"type": "rule", "color": "#555"}, "encoding": {"x": {"datum": 0, "type": "quantitative"}, "y": {"aggregate": "min", "field": "age", "type": "quantitative"}, "y2": {"aggregate": "max", "field": "age"}}}
]},
{"layer": [
 {"mark": {"type": "area", "orient": "horizontal", "color": "#f3f7fc"}, "encoding": {"x": {"field": "Ba", "type": "quantitative", "scale": {"domain": [0, 200], "range": [636, 683], "nice": false, "zero": false}, "axis": {"orient": "bottom", "values": [0, 200], "format": "d", "offset": 21, "labelOffset": {"condition": {"test": "datum.value == 0", "value": 2.5}, "value": 0}, "title": "Ba", "titleX": 644, "titleY": -558, "titleAlign": "center", "titleBaseline": "alphabetic"}}, "x2": {"datum": 0}}},
 {"mark": {"type": "line", "color": "#111", "strokeWidth": 1}, "encoding": {"x": {"field": "Ba", "type": "quantitative"}, "order": {"field": "age", "type": "quantitative"}}},
 {"mark": {"type": "rule", "color": "#555"}, "encoding": {"x": {"datum": 0, "type": "quantitative"}, "y": {"aggregate": "min", "field": "age", "type": "quantitative"}, "y2": {"aggregate": "max", "field": "age"}}}
]},
{"layer": [
 {"mark": {"type": "area", "orient": "horizontal", "color": "#e2ecf7"}, "encoding": {"x": {"field": "Mn", "type": "quantitative", "scale": {"domain": [0, 800], "range": [705.7, 756.7], "nice": false, "zero": false}, "axis": {"orient": "bottom", "values": [0, 800], "format": "d", "offset": 21, "title": "Mn", "titleX": 713, "titleY": -558, "titleAlign": "center", "titleBaseline": "alphabetic"}}, "x2": {"datum": 0}}},
 {"mark": {"type": "line", "color": "#111", "strokeWidth": 1}, "encoding": {"x": {"field": "Mn", "type": "quantitative"}, "order": {"field": "age", "type": "quantitative"}}},
 {"mark": {"type": "rule", "color": "#555"}, "encoding": {"x": {"datum": 0, "type": "quantitative"}, "y": {"aggregate": "min", "field": "age", "type": "quantitative"}, "y2": {"aggregate": "max", "field": "age"}}}
]},
{"layer": [
 {"mark": {"type": "area", "orient": "horizontal", "color": "#d2e2f2"}, "encoding": {"x": {"field": "Pb", "type": "quantitative", "scale": {"domain": [20, 120], "range": [780, 831.7], "nice": false, "zero": false}, "axis": {"orient": "bottom", "values": [20, 120], "format": "d", "offset": 21, "labelOffset": {"condition": {"test": "datum.value == 120", "value": -2}, "value": 0}, "title": "Pb", "titleX": 782, "titleY": -558, "titleAlign": "center", "titleBaseline": "alphabetic"}}, "x2": {"datum": 10.3}}},
 {"mark": {"type": "line", "color": "#111", "strokeWidth": 1}, "encoding": {"x": {"field": "Pb", "type": "quantitative"}, "order": {"field": "age", "type": "quantitative"}}},
 {"mark": {"type": "rule", "color": "#555"}, "encoding": {"x": {"datum": 10.3, "type": "quantitative"}, "y": {"aggregate": "min", "field": "age", "type": "quantitative"}, "y2": {"aggregate": "max", "field": "age"}}}
]},
{"layer": [
 {"mark": {"type": "area", "orient": "horizontal", "color": "#b0d0eb"}, "encoding": {"x": {"field": "BD", "type": "quantitative", "scale": {"domain": [0.2, 1.2], "range": [847, 900], "nice": false, "zero": false}, "axis": {"orient": "bottom", "values": [0.2, 1.2], "format": ".1f", "offset": 21, "labelOffset": {"condition": {"test": "datum.value < 0.5", "value": 2.5}, "value": 0}, "title": "Bulk Density", "titleX": 852, "titleY": -561, "titleAngle": -45, "titleAlign": "left", "titleBaseline": "alphabetic"}}, "x2": {"datum": 0.143}}},
 {"mark": {"type": "line", "color": "#111", "strokeWidth": 1}, "encoding": {"x": {"field": "BD", "type": "quantitative"}, "order": {"field": "age", "type": "quantitative"}}},
 {"mark": {"type": "rule", "color": "#555"}, "encoding": {"x": {"datum": 0.143, "type": "quantitative"}, "y": {"aggregate": "min", "field": "age", "type": "quantitative"}, "y2": {"aggregate": "max", "field": "age"}}}
]},
{"layer": [
 {"mark": {"type": "area", "orient": "horizontal", "color": "#8bbbe2"}, "encoding": {"x": {"field": "OC", "type": "quantitative", "scale": {"domain": [20, 80], "range": [925, 966.7], "nice": false, "zero": false}, "axis": {"orient": "bottom", "values": [20, 80], "format": "d", "offset": 21, "title": "Organic Content", "titleX": 921, "titleY": -561, "titleAngle": -45, "titleAlign": "left", "titleBaseline": "alphabetic"}}, "x2": {"datum": 4.17}}},
 {"mark": {"type": "line", "color": "#111", "strokeWidth": 1}, "encoding": {"x": {"field": "OC", "type": "quantitative"}, "order": {"field": "age", "type": "quantitative"}}},
 {"mark": {"type": "rule", "color": "#555"}, "encoding": {"x": {"datum": 4.17, "type": "quantitative"}, "y": {"aggregate": "min", "field": "age", "type": "quantitative"}, "y2": {"aggregate": "max", "field": "age"}}}
]},
{"layer": [
 {"mark": {"type": "area", "orient": "horizontal", "color": "#6aa3d7"}, "encoding": {"x": {"field": "CC", "type": "quantitative", "scale": {"domain": [5, 20], "range": [990, 1033], "nice": false, "zero": false}, "axis": {"orient": "bottom", "values": [5, 20], "format": "d", "offset": 21, "title": "Carbonate Content", "titleX": 989, "titleY": -561, "titleAngle": -45, "titleAlign": "left", "titleBaseline": "alphabetic"}}, "x2": {"datum": 2.56}}},
 {"mark": {"type": "line", "color": "#111", "strokeWidth": 1}, "encoding": {"x": {"field": "CC", "type": "quantitative"}, "order": {"field": "age", "type": "quantitative"}}},
 {"mark": {"type": "rule", "color": "#555"}, "encoding": {"x": {"datum": 2.56, "type": "quantitative"}, "y": {"aggregate": "min", "field": "age", "type": "quantitative"}, "y2": {"aggregate": "max", "field": "age"}}}
]},
{"layer": [
 {"mark": {"type": "rule", "color": "#111", "strokeWidth": 4}, "encoding": {"x": {"field": "tw", "type": "quantitative", "scale": {"domain": [0, 2000000], "range": [1056.7, 1160], "nice": false, "zero": false}, "axis": {"orient": "bottom", "values": [0, 500000, 1000000, 1500000, 2000000], "format": "d", "labelExpr": "datum.value == 0 || datum.value == 1000000 ? datum.label : ''", "offset": 21, "title": null}}, "x2": {"datum": 0}}},
 {"data": {"name": "dendro"}, "mark": {"type": "rule", "color": "#333", "strokeWidth": 1}, "encoding": {"x": {"field": "h", "type": "quantitative"}, "y2": {"field": "age2"}}},
 {"data": {"name": "dendro"}, "mark": {"type": "rule", "color": "#333", "strokeWidth": 1}, "encoding": {"x": {"field": "hl", "type": "quantitative"}, "x2": {"field": "h"}}},
 {"data": {"name": "dendro"}, "mark": {"type": "rule", "color": "#333", "strokeWidth": 1}, "encoding": {"x": {"field": "hr", "type": "quantitative"}, "x2": {"field": "h"}, "y": {"field": "age2", "type": "quantitative", "title": "Age"}}}
]},
{"data": {"name": "zones"}, "mark": {"type": "rule", "color": "#e5484d", "strokeWidth": 1.3, "opacity": 0.9}, "encoding": {}}
],
"resolve": {"scale": {"x": "independent"}, "axis": {"x": "independent"}}
}
